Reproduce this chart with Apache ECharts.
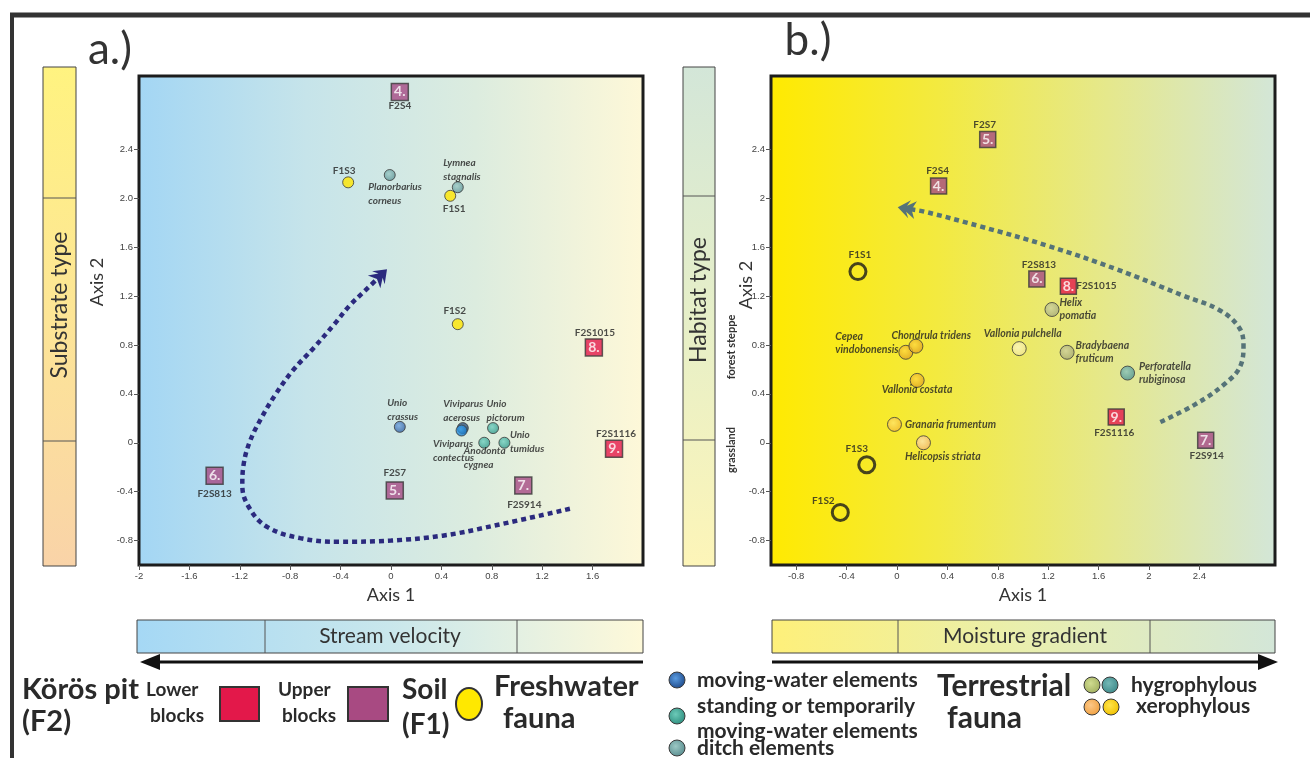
<!DOCTYPE html>
<html><head><meta charset="utf-8">
<script src="https://cdn.jsdelivr.net/npm/echarts@6/dist/echarts.min.js"></script>
<style>html,body{margin:0;padding:0;background:#fff}#c{width:1310px;height:758px}</style>
</head><body><div id="c"></div>
<script>
// ---------------- data ----------------
const xTickLabelsA = ['-2','-1.6','-1.2','-0.8','-0.4','0','0.4','0.8','1.2','1.6'];
const yTickLabelsA = ['-0.8','-0.4','0','0.4','0.8','1.2','1.6','2.0','2.4'];
const xTickLabelsB = ['-0.8','-0.4','0','0.4','0.8','1.2','1.6','2','2.4'];
const yTickLabelsB = ['-0.8','-0.4','0','0.4','0.8','1.2','1.6','2','2.4'];

// Körös pit blocks: [number, sample, axis1, axis2, level]
const blocksA = [
  ['4.','F2S4',0.07,2.87,'upper'],
  ['5.','F2S7',0.03,-0.39,'upper'],
  ['6.','F2S813',-1.40,-0.27,'upper'],
  ['7.','F2S914',1.05,-0.35,'upper'],
  ['8.','F2S1015',1.61,0.78,'lower'],
  ['9.','F2S1116',1.77,-0.05,'lower']
];
const soilA = [['F1S1',0.47,2.02],['F1S2',0.53,0.97],['F1S3',-0.34,2.13]];
const faunaA = [
  ['Planorbarius corneus',-0.01,2.19,'ditch'],
  ['Lymnea stagnalis',0.53,2.09,'ditch'],
  ['Unio crassus',0.07,0.13,'moving'],
  ['Viviparus acerosus',0.57,0.12,'moving'],
  ['Viviparus contectus',0.56,0.10,'moving'],
  ['Unio pictorum',0.81,0.12,'standing'],
  ['Anodonta cygnea',0.74,0.00,'standing'],
  ['Unio tumidus',0.90,0.00,'standing']
];
const trendA = [[1.42,-0.54],[0.81,-0.68],[0.41,-0.76],[0,-0.80],[-0.41,-0.81],[-0.72,-0.78],[-0.98,-0.69],[-1.12,-0.54],[-1.18,-0.35],[-1.17,-0.18],[-1.12,0.01],[-1.03,0.20],[-0.92,0.39],[-0.78,0.59],[-0.61,0.78],[-0.45,0.97],[-0.33,1.12],[-0.21,1.24],[-0.10,1.35]];

const blocksB = [
  ['4.','F2S4',0.33,2.10,'upper'],
  ['5.','F2S7',0.72,2.48,'upper'],
  ['6.','F2S813',1.11,1.34,'upper'],
  ['7.','F2S914',2.45,0.02,'upper'],
  ['8.','F2S1015',1.36,1.28,'lower'],
  ['9.','F2S1116',1.74,0.21,'lower']
];
const soilB = [['F1S1',-0.31,1.40],['F1S2',-0.45,-0.57],['F1S3',-0.24,-0.18]];
const faunaB = [
  ['Helix pomatia',1.23,1.09,'hygro'],
  ['Cepea vindobonensis',0.07,0.74,'xero'],
  ['Chondrula tridens',0.15,0.79,'xero'],
  ['Vallonia pulchella',0.97,0.77,'xero'],
  ['Bradybaena fruticum',1.35,0.74,'hygro'],
  ['Perforatella rubiginosa',1.83,0.57,'hygro'],
  ['Vallonia costata',0.16,0.51,'xero'],
  ['Granaria frumentum',-0.02,0.15,'xero'],
  ['Helicopsis striata',0.21,0.00,'xero']
];
const trendB = [[2.09,0.17],[2.36,0.31],[2.60,0.48],[2.73,0.64],[2.75,0.80],[2.71,0.95],[2.55,1.09],[2.28,1.20],[1.74,1.42],[1.20,1.61],[0.66,1.77],[0.22,1.89],[0.10,1.91]];

// ---------------- styles / layout ----------------
const FONT = 'Lato, "Open Sans", sans-serif';
function radial(c0, c1){ return {type:'radial', x:0.42, y:0.4, r:0.62, colorStops:[{offset:0,color:c0},{offset:1,color:c1}]}; }
function linear(x2, y2, stops){ return {type:'linear', x:0, y:0, x2:x2, y2:y2, colorStops:stops.map((c,i)=>({offset:i/(stops.length-1), color:c}))}; }
const catFill = {
  moving:['#6aa6e6','#234f96'], standing:['#72d0c0','#2f9688'], ditch:['#9ccac6','#5b9194'],
  hygro:['#cfd3a0','#a4aa78'], xero:['#ffd940','#dca020']
};
const speciesFill = {
  'Unio crassus':['#72a4e0','#2f5d9c'],
  'Viviparus acerosus':['#4a6f9a','#1f3f66'],
  'Viviparus contectus':['#3aa6f2','#1470c0'],
  'Helix pomatia':['#cfd3a0','#a4aa78'],
  'Vallonia pulchella':['#fdf8c4','#efe48a'],
  'Bradybaena fruticum':['#cfd09c','#a3a670'],
  'Perforatella rubiginosa':['#8cc4bc','#4a9090'],
  'Granaria frumentum':['#ffe46a','#f0b830'],
  'Helicopsis striata':['#fde4b0','#f2b466']
};
// text top-left offset from point centre, wrap onto two lines?
const faunaLayoutA = {
  'Planorbarius corneus':[-21,5,true], 'Lymnea stagnalis':[-14,-31,true],
  'Unio crassus':[-12,-31,true], 'Viviparus acerosus':[-19,-31,true],
  'Viviparus contectus':[-28,7,true], 'Unio pictorum':[-6,-31,true],
  'Anodonta cygnea':[-20,2,true], 'Unio tumidus':[6,-14,true]
};
const faunaLayoutB = {
  'Helix pomatia':[8,-13,true], 'Cepea vindobonensis':[-70,-22,true],
  'Chondrula tridens':[-24,-17,false], 'Vallonia pulchella':[-35,-21,false],
  'Bradybaena fruticum':[9,-13,true], 'Perforatella rubiginosa':[12,-12,true],
  'Vallonia costata':[-35,3,false], 'Granaria frumentum':[11,-6,false],
  'Helicopsis striata':[-18,8,false]
};
// sample label centre offset from point centre
const sampleLayoutA = {
  'F2S4':[0,14,'center'], 'F2S7':[0,-18,'center'], 'F2S813':[0,18,'center'],
  'F2S914':[1,19,'center'], 'F2S1015':[1,-15,'center'], 'F2S1116':[2,-15,'center'],
  'F1S1':[4,13,'center'], 'F1S2':[-3,-13,'center'], 'F1S3':[-4,-12,'center']
};
const sampleLayoutB = {
  'F2S4':[-1,-15,'center'], 'F2S7':[-3,-15,'center'], 'F2S813':[2,-14,'center'],
  'F2S914':[1,15,'center'], 'F2S1015':[8,0,'left'], 'F2S1116':[-2,16,'center'],
  'F1S1':[2,-17,'center'], 'F1S2':[-17,-12,'center'], 'F1S3':[-10,-16,'center']
};

// ---------------- builders ----------------
function valueAxis(gi, min, max, labels, extra){
  const vals = labels.map(Number);
  return Object.assign({
    type:'value', gridIndex:gi, min:min, max:max,
    splitLine:{show:false}, axisLine:{show:false, onZero:false},
    axisTick:{show:true, length:5, customValues:vals, lineStyle:{color:'#555', width:1}},
    axisLabel:{customValues:vals, margin:6, fontSize:9.5, color:'#444', fontFamily:'"Liberation Sans", Arial, sans-serif',
      formatter: v => { const i = vals.findIndex(t => Math.abs(t - v) < 1e-6); return i >= 0 ? labels[i] : ''; }}
  }, extra || {});
}
const axisName = {name:'Axis 1', nameLocation:'middle', nameGap:21, nameTextStyle:{fontSize:18, fontFamily:FONT, color:'#333'}};

function faunaSeries(list, gi, size, layout, fs, lh){
  return {type:'scatter', xAxisIndex:gi, yAxisIndex:gi, z:4, symbol:'circle', symbolSize:size, silent:true,
    itemStyle:{borderColor:'#3a3a3a', borderWidth:1},
    label:{show:true, fontSize:fs, fontStyle:'italic', fontWeight:'bold', fontFamily:FONT, color:'#222', lineHeight:lh},
    data:list.map(([name,x,y,cat]) => {
      const L = layout[name], f = speciesFill[name] || catFill[cat];
      return {name:name, value:[x,y], itemStyle:{color:radial(f[0], f[1])},
        label:{position:[L[0]+size/2, L[1]+size/2], align:'left', verticalAlign:'top', formatter: L[2] ? name.replace(' ', '\n') : name}};
    })};
}
function blockSeries(list, gi, size){
  return {type:'scatter', xAxisIndex:gi, yAxisIndex:gi, z:5, symbol:'rect', symbolSize:size, silent:true,
    itemStyle:{borderColor:'#3a3a3a', borderWidth:1.5},
    label:{show:true, position:'inside', formatter:'{b}', color:'#fff', fontWeight:'bold', fontSize:14, fontFamily:FONT},
    data:list.map(([num,name,x,y,lvl]) => ({name:num, value:[x,y], itemStyle:{color: lvl === 'upper' ? '#a64a84' : '#e3184a'}}))};
}
function nameSeries(list, gi, size, layout){
  return {type:'scatter', xAxisIndex:gi, yAxisIndex:gi, z:6, symbol:'rect', symbolSize:size, silent:true,
    itemStyle:{color:'rgba(0,0,0,0)', borderWidth:0},
    label:{show:true, fontSize:10, fontWeight:'bold', fontFamily:FONT, color:'#222'},
    data:list.map(([name,x,y]) => {
      const L = layout[name];
      return {name:name, value:[x,y], label:{position:[L[0]+size/2, L[1]+size/2], align:L[2], verticalAlign:'middle', formatter:name}};
    })};
}
function soilSeries(list, gi, size, open){
  return {type:'scatter', xAxisIndex:gi, yAxisIndex:gi, z:4, symbol:'circle', symbolSize:size, silent:true,
    itemStyle: open ? {color:'rgba(0,0,0,0)', borderColor:'#1a1a1a', borderWidth:3} : {color:'#ffe600', borderColor:'#3a3a3a', borderWidth:1},
    data:list.map(([name,x,y]) => ({name:name, value:[x,y]}))};
}
function trendSeries(pts, gi, color){
  return {type:'line', xAxisIndex:gi, yAxisIndex:gi, z:3, data:pts, smooth:0.4, symbol:'none', showSymbol:false, silent:true,
    lineStyle:{color:color, width:4.5, type:[5,4], cap:'butt'}};
}

const chart = echarts.init(document.getElementById('c'), null, {renderer:'canvas'});
const option = {
  animation:false, backgroundColor:'#fff',
  grid:[
    {left:139, top:76, width:504, height:489, show:true, borderColor:'#1c1c1c', borderWidth:3,
     backgroundColor: linear(1,0,['#a3d6f4','#c6e4ea','#dcecdf','#fef8d8'])},
    {left:771, top:76, width:504, height:489, show:true, borderColor:'#1c1c1c', borderWidth:3,
     backgroundColor: linear(1,0,['#ffea00','#f3ea40','#e5e88c','#d3e6d8'])}
  ],
  xAxis:[valueAxis(0,-2,2,xTickLabelsA,axisName), valueAxis(1,-1,3,xTickLabelsB,axisName)],
  yAxis:[valueAxis(0,-1,3,yTickLabelsA), valueAxis(1,-1,3,yTickLabelsB)],
  series:[
    trendSeries(trendA,0,'#2b2a7e'),
    soilSeries(soilA,0,11,false),
    faunaSeries(faunaA,0,11,faunaLayoutA,10,14),
    blockSeries(blocksA,0,17),
    nameSeries(blocksA.map(b=>[b[1],b[2],b[3]]),0,17,sampleLayoutA),
    nameSeries(soilA,0,11,sampleLayoutA),
    trendSeries(trendB,1,'#557378'),
    soilSeries(soilB,1,16,true),
    faunaSeries(faunaB,1,14,faunaLayoutB,10.5,13),
    blockSeries(blocksB,1,16),
    nameSeries(blocksB.map(b=>[b[1],b[2],b[3]]),1,16,sampleLayoutB),
    nameSeries(soilB,1,16,sampleLayoutB)
  ]
};
chart.setOption(option);

// ---------------- decorations ----------------
function arrowHead(gi, pts, color){
  const a = chart.convertToPixel({gridIndex:gi}, pts[pts.length-2]);
  const b = chart.convertToPixel({gridIndex:gi}, pts[pts.length-1]);
  let ux = b[0]-a[0], uy = b[1]-a[1]; const L = Math.hypot(ux,uy); ux/=L; uy/=L;
  const nx = -uy, ny = ux;
  const T = [b[0]+ux*12, b[1]+uy*12];
  const P = (s,t) => [T[0]-ux*s+nx*t, T[1]-uy*s+ny*t];
  return {type:'polygon', z:100, shape:{points:[T,P(12,9),P(9,3),P(18,9),P(14,0),P(18,-9),P(9,-3),P(12,-9)]}, style:{fill:color}};
}
function txt(x,y,text,font,opts){
  return Object.assign({type:'text', x:x, y:y, z:50, style:Object.assign({text:text, font:font, fill:'#2a2a2a', align:'left', verticalAlign:'middle'}, (opts&&opts.style)||{})}, (opts&&opts.el)||{});
}
function rtxt(x,y,text,font){ return {type:'text', x:x, y:y, rotation:Math.PI/2, z:50, style:{text:text, font:font, fill:'#333', align:'center', verticalAlign:'middle'}}; }
function rect(x,y,w,h,fill,stroke,lw){ return {type:'rect', z:20, shape:{x:x,y:y,width:w,height:h}, style:{fill:fill, stroke:stroke||'#444', lineWidth:lw||1}}; }
function line(x1,y1,x2,y2,c,w){ return {type:'line', z:21, shape:{x1:x1,y1:y1,x2:x2,y2:y2}, style:{stroke:c, lineWidth:w}}; }
function circ(cx,cy,r,c0,c1){ return {type:'circle', z:20, shape:{cx:cx,cy:cy,r:r}, style:{fill:radial(c0,c1), stroke:'#3a3a3a', lineWidth:1}}; }

const G = [
  line(10,15,1310,15,'#333',5), line(12,13,12,758,'#333',4),
  txt(110,50,'a.)','44px '+FONT,{style:{align:'center',fill:'#333'}}),
  txt(808,41,'b.)','44px '+FONT,{style:{align:'center',fill:'#333'}}),
  // side bar a
  rect(43,67,33,499,linear(0,1,['#fff380','#fde596','#f9d3a8'])),
  line(43,198,76,198,'#555',1), line(43,441,76,441,'#555',1),
  rtxt(60,305,'Substrate type','23px '+FONT),
  rtxt(97,282,'Axis 2','18px '+FONT),
  // side bar b
  rect(683,67,32,499,linear(0,1,['#d3e6d8','#e6efc8','#fdf5b8'])),
  line(683,196,715,196,'#555',1), line(683,440,715,440,'#555',1),
  rtxt(699,300,'Habitat type','23px '+FONT),
  rtxt(731,347,'forest steppe','bold 11px '+FONT),
  rtxt(731,450,'grassland','bold 11px '+FONT),
  rtxt(746,285,'Axis 2','18px '+FONT),
  // bottom bar a
  rect(137,620,506,33,linear(1,0,['#a5d8f5','#c9e7ec','#fef9d9'])),
  line(265,620,265,653,'#555',1), line(517,620,517,653,'#555',1),
  txt(390,636,'Stream velocity','21px '+FONT,{style:{align:'center',fill:'#333'}}),
  line(643,662,155,662,'#111',3),
  {type:'polygon', z:21, shape:{points:[[140,662],[160,654],[160,670]]}, style:{fill:'#111'}},
  // bottom bar b
  rect(772,620,503,33,linear(1,0,['#fef07a','#e9efae','#d3e6d8'])),
  line(898,620,898,653,'#555',1), line(1150,620,1150,653,'#555',1),
  txt(1025,636,'Moisture gradient','21px '+FONT,{style:{align:'center',fill:'#333'}}),
  line(772,662,1262,662,'#111',3),
  {type:'polygon', z:21, shape:{points:[[1278,662],[1258,654],[1258,670]]}, style:{fill:'#111'}},
  // legend left
  txt(22,690,'Körös pit','bold 29px '+FONT),
  txt(22,722,'(F2)','bold 29px '+FONT),
  txt(146,690,'Lower','bold 19px '+FONT),
  txt(150,716,'blocks','bold 19px '+FONT),
  rect(220,687,39,34,'#e3184a','#333',2),
  txt(278,690,'Upper','bold 19px '+FONT),
  txt(282,716,'blocks','bold 19px '+FONT),
  rect(348,687,40,34,'#a84a82','#333',2),
  txt(402,690,'Soil','bold 28px '+FONT),
  txt(402,725,'(F1)','bold 28px '+FONT),
  {type:'ellipse', z:20, shape:{cx:469,cy:704,rx:13,ry:16}, style:{fill:'#ffe800', stroke:'#333', lineWidth:2}},
  txt(494,687,'Freshwater','bold 29px '+FONT),
  txt(503,719,'fauna','bold 29px '+FONT),
  // legend right
  circ(677,680,8,'#5a9be0','#1e4a8a'),
  txt(697,680,'moving-water elements','bold 21px '+FONT),
  circ(677,716,8,'#6ccab8','#2f8f80'),
  txt(697,706,'standing or temporarily','bold 21px '+FONT),
  txt(697,731,'moving-water elements','bold 21px '+FONT),
  circ(677,748,8,'#9cc8c4','#5a8e90'),
  txt(697,748,'ditch elements','bold 21px '+FONT),
  txt(937,686,'Terrestrial','bold 30px '+FONT),
  txt(947,718,'fauna','bold 30px '+FONT),
  circ(1092,685,8,'#d0dc90','#a2b060'),
  circ(1110,685,8,'#74b8b6','#3f8a8a'),
  txt(1131,685,'hygrophylous','bold 21px '+FONT),
  circ(1092,707,8,'#fcc888','#f0a040'),
  circ(1111,707,8,'#ffe44a','#f0c000'),
  txt(1136,706,'xerophylous','bold 21px '+FONT),
  arrowHead(0, trendA, '#2b2a7e'),
  arrowHead(1, trendB, '#557378')
];
chart.setOption({graphic:G});
</script></body></html>
